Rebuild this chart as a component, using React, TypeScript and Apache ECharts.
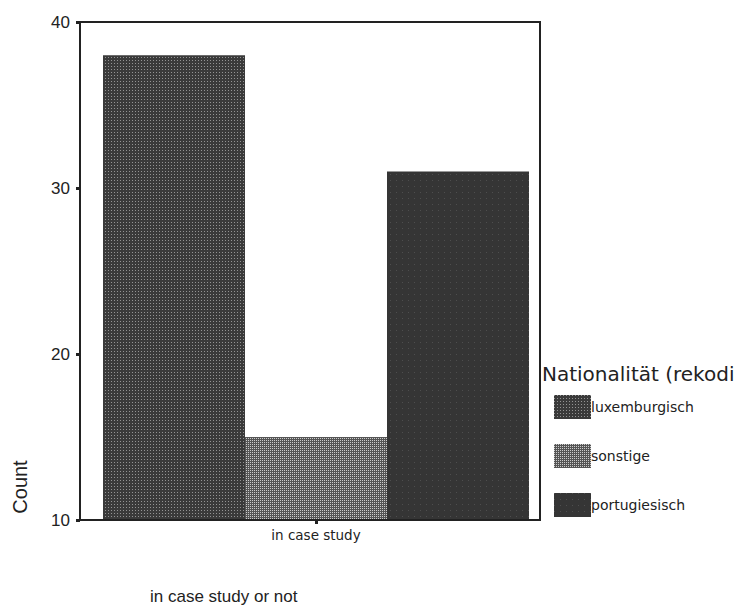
import React, { useEffect, useRef } from "react";
import * as echarts from "echarts";

const categories = ["in case study"];
const seriesNames = ["luxemburgisch", "sonstige", "portugiesisch"];
const luxemburgisch = [38];
const sonstige = [15];
const portugiesisch = [31];
const yTicks = { min: 10, max: 40, interval: 10 };
const legendTitle = "Nationalität (rekodi";

const FONT = "Liberation Sans, Arial, sans-serif";
const WIDE = "DejaVu Sans, Verdana, sans-serif";

export default function App() {
  const ref = useRef<HTMLDivElement>(null);
  useEffect(() => {
    const chart = echarts.init(ref.current!, undefined, { renderer: "svg" });
    const mk = (name: string, data: number[], color: string, decal: any) => ({
      name,
      type: "bar",
      data,
      barWidth: 142,
      barGap: "0%",
      itemStyle: { color, decal },
    });
    chart.setOption({
      animation: false,
      backgroundColor: "#fff",
      textStyle: { fontFamily: FONT },
      title: {
        text: legendTitle,
        left: 542,
        top: 364,
        padding: 0,
        textStyle: { fontFamily: WIDE, fontSize: 20, fontWeight: "normal", color: "#222" },
      },
      legend: {
        orient: "vertical",
        left: 554,
        top: 395,
        padding: 0,
        itemWidth: 37,
        itemHeight: 24,
        itemGap: 25,
        icon: "rect",
        textStyle: { fontFamily: WIDE, fontSize: 14, color: "#222", padding: [0, 0, 0, -5] },
        data: seriesNames,
      },
      grid: {
        left: 92,
        top: 22,
        right: 209,
        bottom: 85,
        show: false,
      },
      xAxis: {
        type: "category",
        data: categories,
        axisLine: { lineStyle: { color: "#222", width: 2 } },
        axisTick: { show: true, alignWithLabel: true, length: 4, lineStyle: { width: 3, color: "#222" } },
        axisLabel: { fontFamily: WIDE, fontSize: 13.5, color: "#222", margin: 8 },
      },
      yAxis: {
        type: "value",
        min: yTicks.min,
        max: yTicks.max,
        interval: yTicks.interval,
        offset: 12,
        splitLine: { show: false },
        axisLine: { show: true, lineStyle: { color: "#222", width: 2 } },
        axisTick: { show: true, length: 4, lineStyle: { width: 3, color: "#222" } },
        axisLabel: { fontFamily: FONT, fontSize: 17, color: "#222", margin: 10 },
      },
      graphic: [
        {
          type: "rect",
          shape: { x: 80, y: 22, width: 460, height: 498 },
          style: { fill: "none", stroke: "#222", lineWidth: 2 },
          silent: true,
          z: 10,
        },
        {
          type: "text",
          x: 20,
          y: 487,
          rotation: Math.PI / 2,
          style: {
            text: "Count",
            font: "20px Liberation Sans, Arial, sans-serif",
            fill: "#222",
            textAlign: "center",
            textVerticalAlign: "middle",
          },
        },
        {
          type: "text",
          left: 150,
          top: 588,
          style: {
            text: "in case study or not",
            font: "17px Liberation Sans, Arial, sans-serif",
            fill: "#222",
          },
        },
      ],
      series: [
        mk("luxemburgisch", luxemburgisch, "#3a3a3a", {
          symbol: "rect",
          symbolSize: 1,
          dashArrayX: [1, 2],
          dashArrayY: [1, 2],
          color: "rgba(255,255,255,0.45)",
        }),
        mk("sonstige", sonstige, "#555555", {
          symbol: "rect",
          symbolSize: 1,
          dashArrayX: [1, 1],
          dashArrayY: [1, 1],
          color: "rgba(255,255,255,0.7)",
        }),
        mk("portugiesisch", portugiesisch, "#353535", {
          symbol: "rect",
          symbolSize: 1,
          dashArrayX: [1, 5],
          dashArrayY: [1, 5],
          color: "rgba(255,255,255,0.12)",
        }),
      ],
    });
    return () => chart.dispose();
  }, []);
  return (
    <div
      ref={ref}
      style={{ position: "fixed", left: 0, top: 0, width: 749, height: 605, background: "#fff" }}
    />
  );
}
